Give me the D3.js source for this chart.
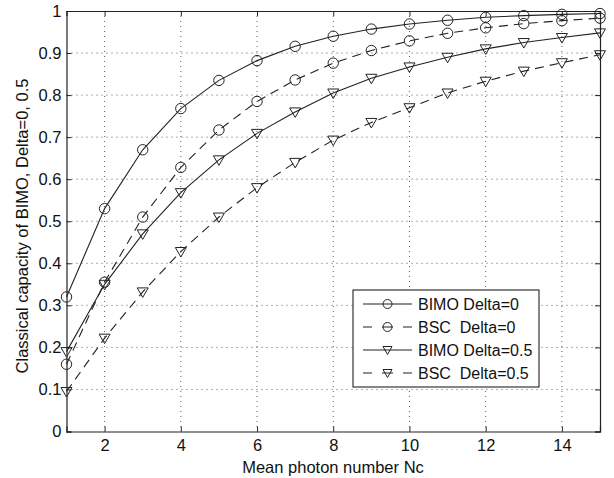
<!DOCTYPE html>
<html><head><meta charset="utf-8">
<script src="https://cdn.jsdelivr.net/npm/d3@7"></script>
<style>body{margin:0;background:#fff}svg{display:block}text{font-family:"Liberation Sans",Arial,sans-serif;fill:#111}</style>
</head><body><svg id="c" width="614" height="478"></svg>
<script>
const nc = [1,2,3,4,5,6,7,8,9,10,11,12,13,14,15];
const bimo0 = [0.32,0.53,0.67,0.768,0.835,0.882,0.916,0.940,0.957,0.969,0.978,0.985,0.989,0.992,0.994];
const bsc0 = [0.16,0.355,0.51,0.628,0.717,0.785,0.836,0.876,0.906,0.929,0.947,0.960,0.970,0.977,0.983];
const bimo05 = [0.19,0.35,0.47,0.568,0.646,0.709,0.76,0.805,0.84,0.867,0.89,0.91,0.925,0.937,0.948];
const bsc05 = [0.095,0.222,0.332,0.428,0.51,0.58,0.64,0.693,0.735,0.77,0.805,0.833,0.857,0.877,0.896];
const xTicks = [2,4,6,8,10,12,14];
const yTicks = [0,0.1,0.2,0.3,0.4,0.5,0.6,0.7,0.8,0.9,1];
const seriesNames = ["BIMO Delta=0","BSC  Delta=0","BIMO Delta=0.5","BSC  Delta=0.5"];

const series = [
  {name:seriesNames[0], vals:bimo0, dash:null, marker:"circle"},
  {name:seriesNames[1], vals:bsc0, dash:"9,6", marker:"circle"},
  {name:seriesNames[2], vals:bimo05, dash:null, marker:"tri"},
  {name:seriesNames[3], vals:bsc05, dash:"9,6", marker:"tri"}
];

const svg = d3.select("#c");
const L=66.5, R=600, T=11, B=431.5;
const FS = "16.5px";
const x = d3.scaleLinear().domain([1,15]).range([L,R]);
const y = d3.scaleLinear().domain([0,1]).range([B,T]);

// grid
const g = svg.append("g");
g.selectAll(".gx").data(xTicks).join("line")
  .attr("x1",d=>x(d)).attr("x2",d=>x(d)).attr("y1",T).attr("y2",B)
  .attr("stroke","#333").attr("stroke-width",0.8).attr("stroke-dasharray","1,4");
g.selectAll(".gy").data(yTicks.filter(d=>d>0&&d<1)).join("line")
  .attr("x1",L).attr("x2",R).attr("y1",d=>y(d)).attr("y2",d=>y(d))
  .attr("stroke","#333").attr("stroke-width",0.8).attr("stroke-dasharray","1,4");

// axes
const xa = svg.append("g").attr("transform",`translate(0,${B})`)
  .call(d3.axisBottom(x).tickValues(xTicks).tickSize(-5).tickPadding(8).tickFormat(d3.format("d")));
const xaT = svg.append("g").attr("transform",`translate(0,${T})`)
  .call(d3.axisTop(x).tickValues(xTicks).tickSize(-5).tickFormat(""));
const ya = svg.append("g").attr("transform",`translate(${L},0)`)
  .call(d3.axisLeft(y).tickValues(yTicks).tickSize(-5).tickPadding(5).tickFormat(d=>d===0?"0":d===1?"1":d3.format(".1f")(d)));
const yaR = svg.append("g").attr("transform",`translate(${R},0)`)
  .call(d3.axisRight(y).tickValues(yTicks).tickSize(-5).tickFormat(""));
[xa,xaT,ya,yaR].forEach(a=>{a.select(".domain").attr("stroke","#222").attr("stroke-width",1.2);
  a.selectAll(".tick line").attr("stroke","#222");
  a.selectAll("text").style("font-size",FS).style("font-family","Liberation Sans, Arial, sans-serif").attr("fill","#111");});

// lines
const line = d3.line().x((d,i)=>x(nc[i])).y(d=>y(d));
function drawMarker(sel, type){
  if(type==="circle"){
    sel.append("circle").attr("r",5.2).attr("fill","none").attr("stroke","#222").attr("stroke-width",1);
  } else {
    sel.append("path").attr("d","M-5.5,-4 L5.5,-4 L0,5.5 Z").attr("fill","none").attr("stroke","#222").attr("stroke-width",1);
  }
}
series.forEach(s=>{
  svg.append("path").datum(s.vals).attr("d",line).attr("fill","none")
    .attr("stroke","#222").attr("stroke-width",1.1).attr("stroke-dasharray",s.dash);
  svg.selectAll(null).data(s.vals).join("g")
    .attr("transform",(d,i)=>`translate(${x(nc[i])},${y(d)})`)
    .each(function(){drawMarker(d3.select(this), s.marker);});
});

// legend
const lg = svg.append("g");
lg.append("rect").attr("x",353).attr("y",290).attr("width",186).attr("height",97)
  .attr("fill","#fff").attr("stroke","#222").attr("stroke-width",1.1);
series.forEach((s,i)=>{
  const yy = 304 + i*23;
  lg.append("line").attr("x1",363).attr("x2",412).attr("y1",yy).attr("y2",yy)
    .attr("stroke","#222").attr("stroke-width",1.1).attr("stroke-dasharray",s.dash?"9,10,11,10,9":null);
  const m = lg.append("g").attr("transform",`translate(387.5,${yy})`);
  if(s.marker==="circle") m.append("circle").attr("r",4.5).attr("fill","none").attr("stroke","#222");
  else m.append("path").attr("d","M-4.5,-3.5 L4.5,-3.5 L0,4.5 Z").attr("fill","none").attr("stroke","#222");
  lg.append("text").attr("x",418).attr("y",yy+6).style("font-size","16px").style("white-space","pre")
    .attr("xml:space","preserve").text(s.name);
});

// axis labels
svg.append("text").attr("x",333).attr("y",473).attr("text-anchor","middle").style("font-size",FS).text("Mean photon number Nc");
svg.append("text").attr("transform",`translate(28,226) rotate(-90)`).attr("text-anchor","middle").style("font-size",FS).text("Classical capacity of BIMO, Delta=0, 0.5");
</script></body></html>
